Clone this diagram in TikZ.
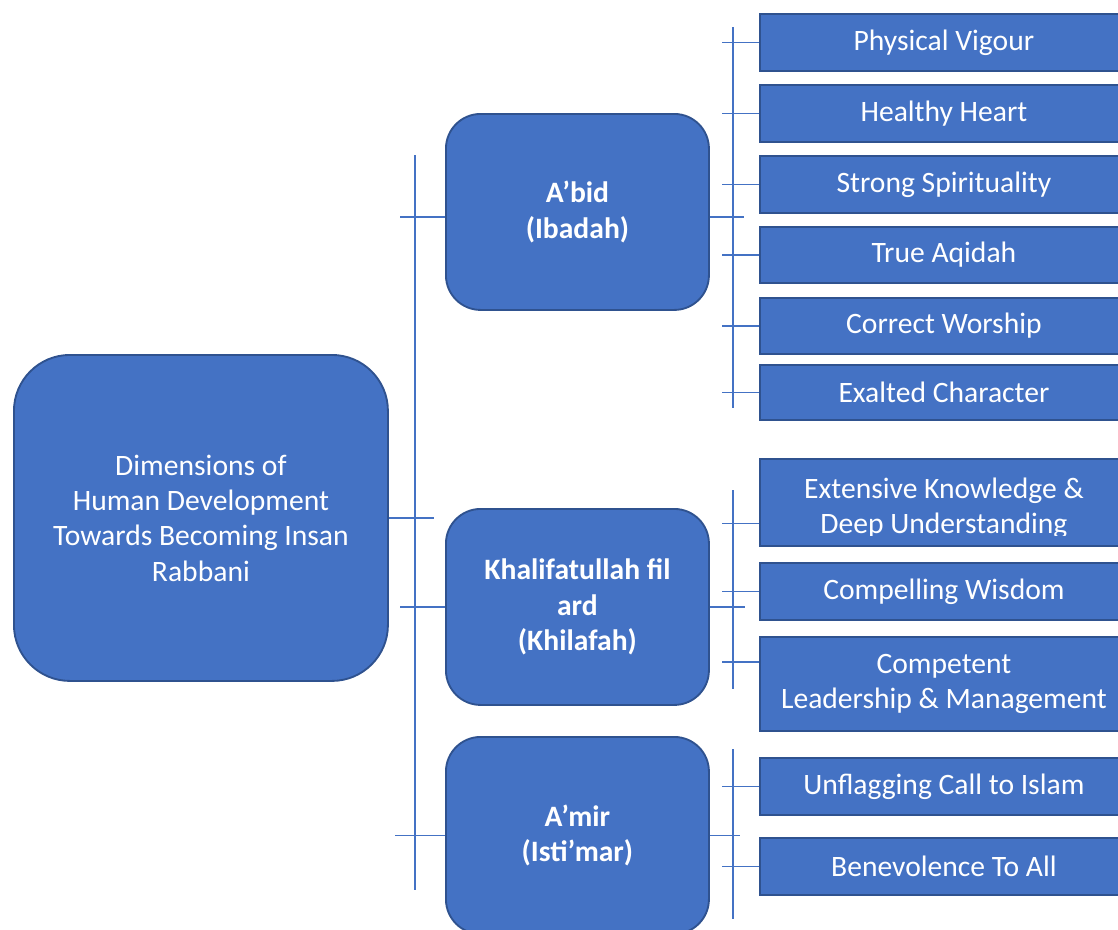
\documentclass[tikz,border=0pt]{standalone}
\usepackage{fontspec}
\setmainfont{Carlito}
\usepackage{xcolor}
\usetikzlibrary{positioning}
\definecolor{boxblue}{HTML}{4472C4}
\definecolor{edgeblue}{HTML}{2F528F}
\tikzstyle{rootbox}  = [rectangle, rounded corners=42pt, minimum width=280.5pt, minimum height=244.5pt, anchor=north west, text centered, draw=edgeblue, fill=boxblue, text=white, line width=1.4pt]
\tikzstyle{dimbox}   = [rectangle, rounded corners=26pt, minimum width=197.25pt, minimum height=147pt, anchor=north west, text centered, draw=edgeblue, fill=boxblue, text=white, line width=1.4pt, font=\bfseries\fontsize{22.2pt}{26.5pt}\selectfont]
\tikzstyle{leafbox}  = [rectangle, minimum width=276pt, minimum height=42.75pt, anchor=north west, text centered, draw=edgeblue, fill=boxblue, text=white, line width=1.4pt]
\tikzstyle{link}     = [draw=boxblue, line width=0.9pt]
\tikzset{every node/.style={align=center, inner sep=0pt, font=\fontsize{22.2pt}{26.5pt}\selectfont}}

\begin{document}
\begin{tikzpicture}[x=0.75pt, y=-0.75pt]
    \useasboundingbox (0,0) rectangle (1118,929);
    \clip (0,0) rectangle (1118,929);

    \node (root) at (13,354)  [rootbox] {Dimensions of\\Human Development\\Towards Becoming Insan\\Rabbani};

    \node (abid) at (445,113) [dimbox] {A’bid\\(Ibadah)};
    \node (khal) at (445,508) [dimbox] {Khalifatullah fil\\ard\\(Khilafah)};
    \node (amir) at (445,736) [dimbox, minimum height=147.75pt] {A’mir\\(Isti’mar)};

    \node (pv)   at (759,13)  [leafbox] {Physical Vigour};
    \node (hh)   at (759,84)  [leafbox] {Healthy Heart};
    \node (ss)   at (759,155) [leafbox] {Strong Spirituality};
    \node (ta)   at (759,226) [leafbox, minimum height=42pt] {True Aqidah};
    \node (cw)   at (759,297) [leafbox, minimum height=42pt] {Correct Worship};
    \node (ec)   at (759,364) [leafbox, minimum height=41.25pt] {Exalted Character};
    \node (ek)   at (759,458) [leafbox, minimum height=65.25pt] {};
    \node (wis)  at (759,562) [leafbox] {Compelling Wisdom};
    \node (lead) at (759,636) [leafbox, minimum height=70.5pt] {Competent\\Leadership \& Management};
    \node (call) at (759,757) [leafbox] {Unflagging Call to Islam};
    \node (ben)  at (759,837) [leafbox] {Benevolence To All};

    % text of ek is cut off at the bottom of its box
    \begin{scope}
        \clip (ek.north west) rectangle ([yshift=8.25pt]ek.south east);
        \node (ektxt) at ([yshift=-4.6pt]ek.center) [text=white] {Extensive Knowledge \&\\Deep Understanding};
    \end{scope}

    % trunk from the root to the three dimensions
    \coordinate (trtop) at (415,155);
    \coordinate (trbot) at (415,890);
    \draw [link] (trtop) -- (trbot);
    \draw [link] (root.east) -- ++(45,0);
    \draw [link] ([yshift=-3.75pt]abid.west) -- ++(-45,0);
    \draw [link] (khal.west) -- ++(-45,0);
    \draw [link] (amir.west) -- ++(-50,0);

    % branches to the leaves
    \coordinate (ibtop) at (733,27);
    \coordinate (ibbot) at (733,408);
    \coordinate (khtop) at (733,490);
    \coordinate (khbot) at (733,689);
    \coordinate (imtop) at (733,749);
    \coordinate (imbot) at (733,919);
    \draw [link] (ibtop) -- (ibbot);
    \draw [link] (khtop) -- (khbot);
    \draw [link] (imtop) -- (imbot);
    \draw [link] ([yshift=-3.75pt]abid.east) -- ++(34,0);
    \draw [link] (khal.east) -- ++(35,0);
    \draw [link] (amir.east) -- ++(30,0);

    \foreach \n in {pv,hh,ss,ta,cw,ec,wis,call,ben}
        \draw [link] (\n.west) -- ++(-37,0);
    \draw [link] ([yshift=-15.75pt]ek.west) -- ++(-37,0);
    \draw [link] ([yshift=16.5pt]lead.west) -- ++(-37,0);
\end{tikzpicture}
\end{document}
